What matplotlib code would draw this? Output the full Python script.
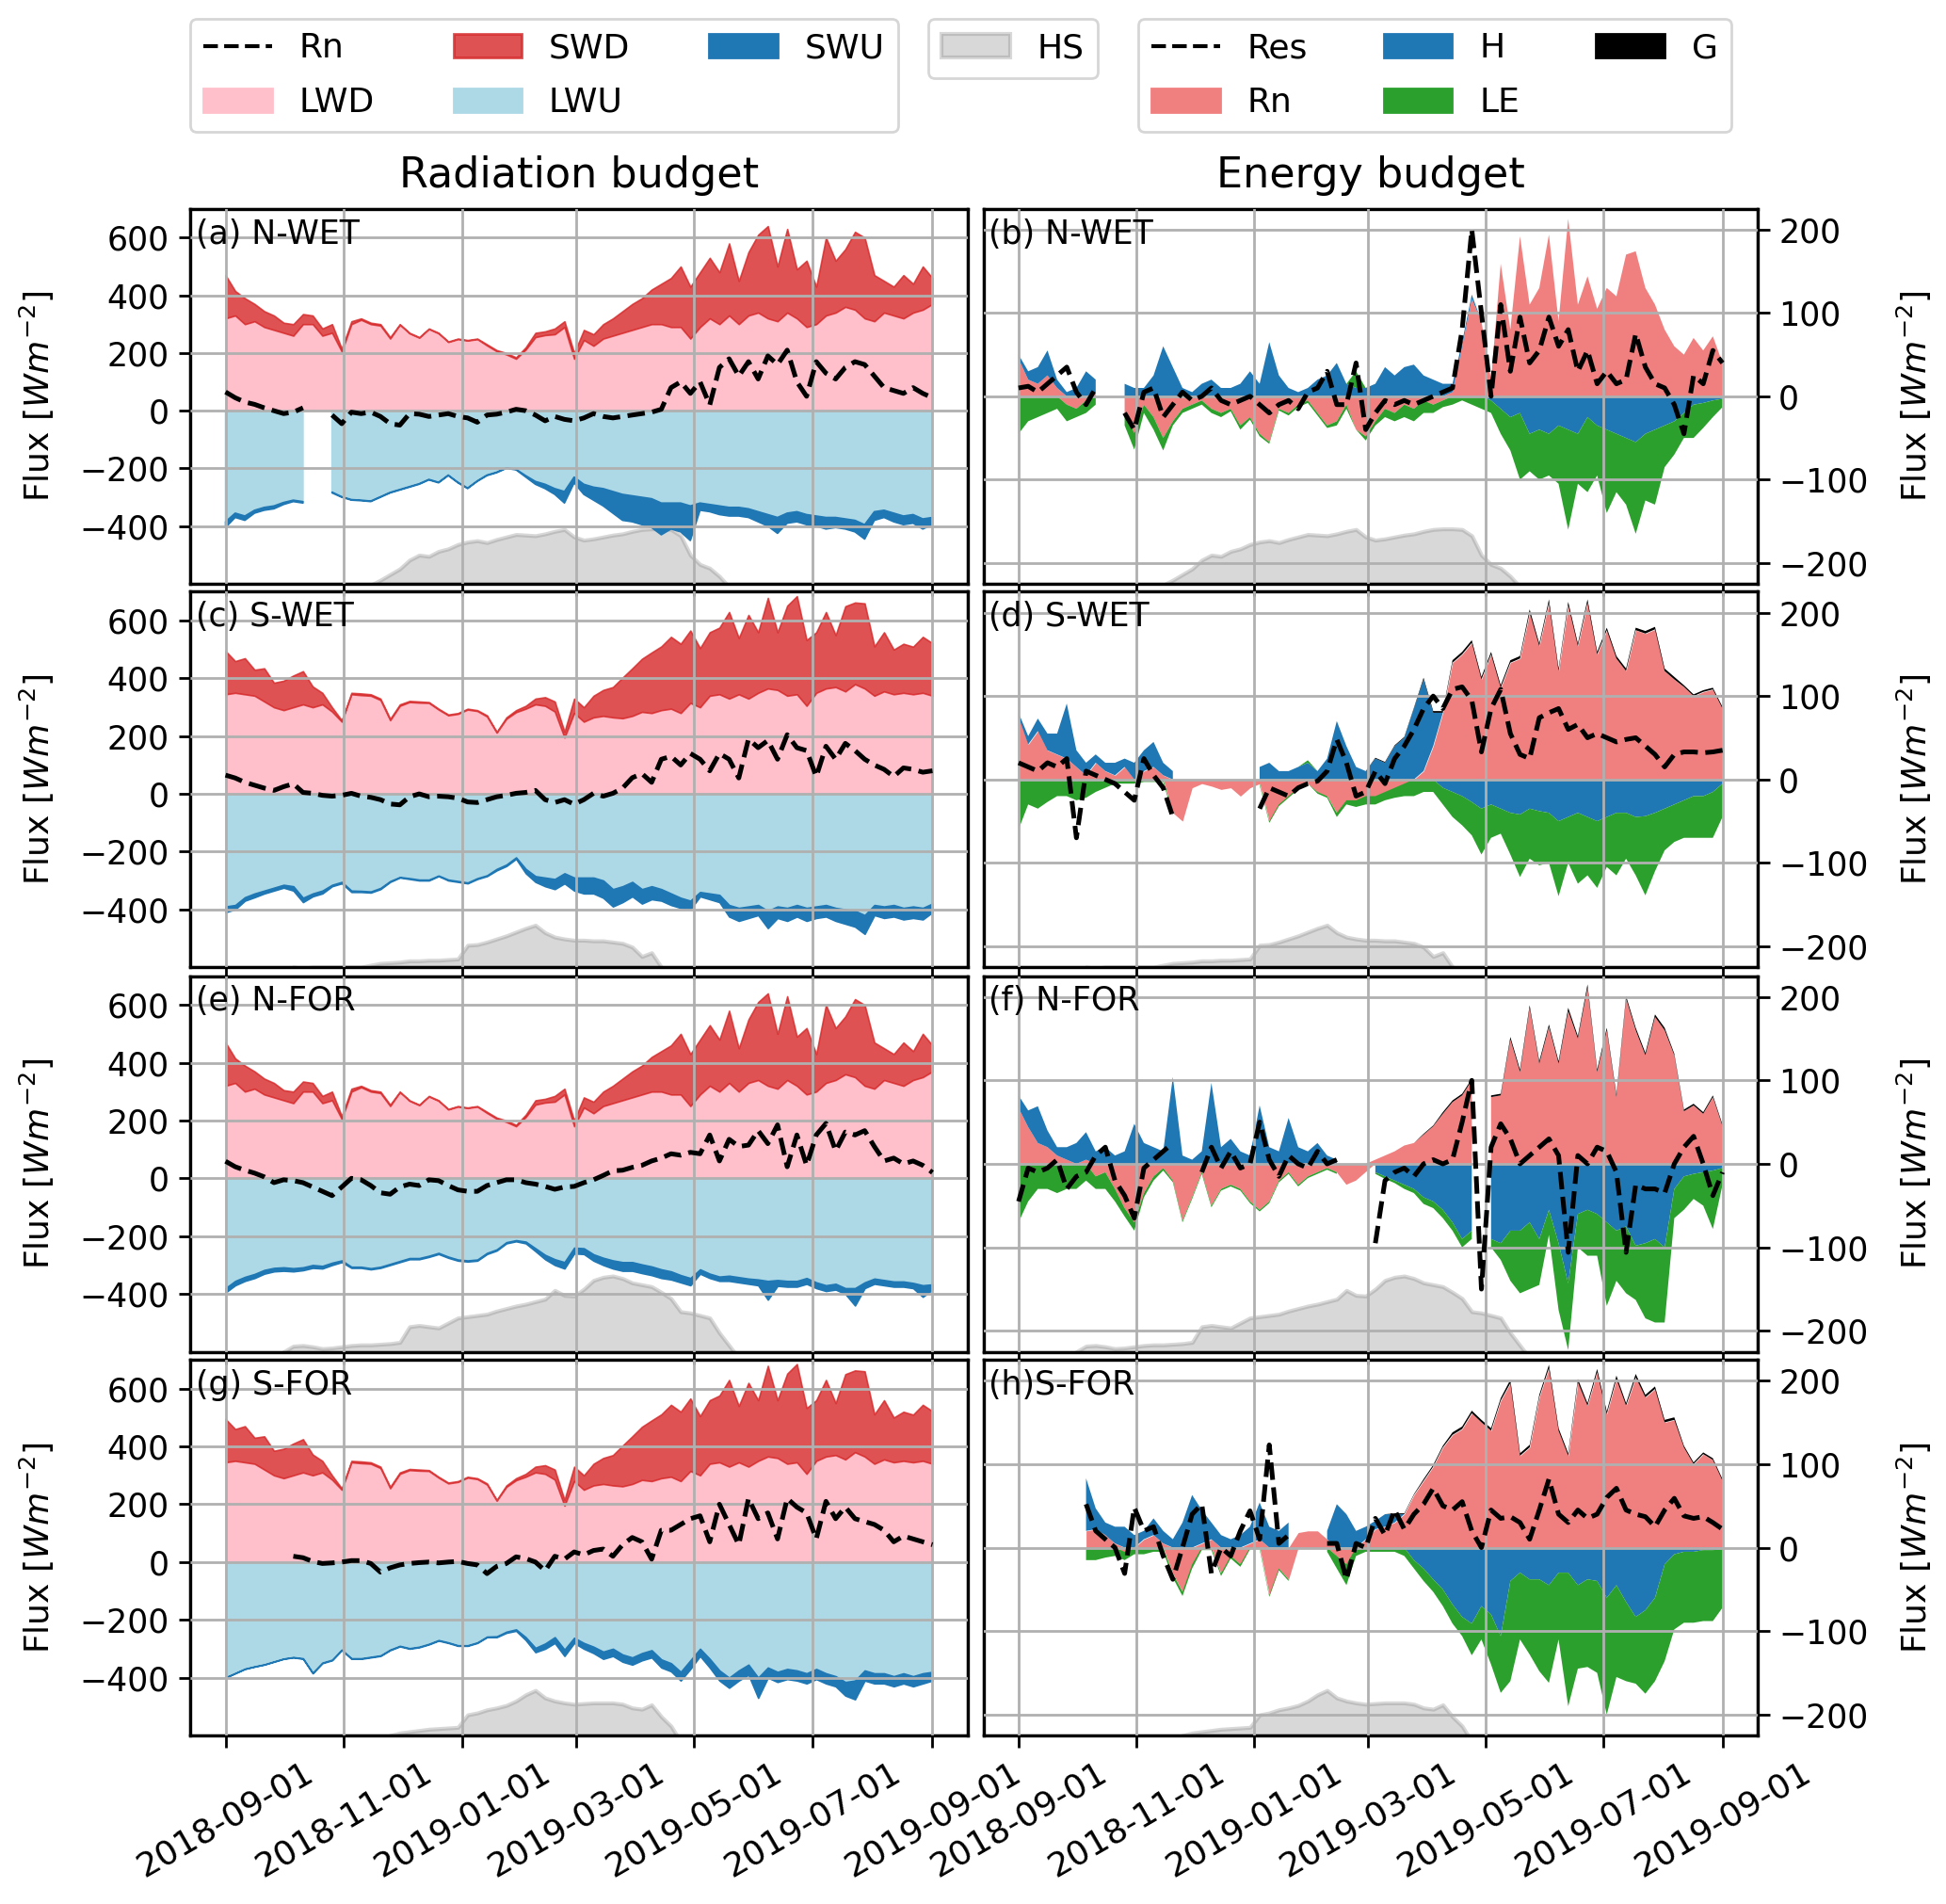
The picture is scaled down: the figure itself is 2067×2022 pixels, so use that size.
import numpy as np
import pandas as pd
import matplotlib
matplotlib.use('Agg')
import matplotlib.pyplot as plt
import matplotlib.dates as mdates
from matplotlib.lines import Line2D
from matplotlib.patches import Patch

nan = np.nan

# 5-daily values, 2018-09-01 .. 2019-09-01 (74 steps)
dates = pd.date_range('2018-09-01', '2019-09-01', freq='5D')

# ---- radiation budget -------------------------------------------------
# incoming radiation, north sites (N-WET, N-FOR)
lwd_n = [320, 330, 300, 310, 290, 280, 270, 260, 300, 300,
         260, 270, 205, 300, 315, 300, 295, 250, 298, 268,
         253, 283, 268, 238, 248, 243, 248, 226, 206, 195,
         180, 212, 255, 262, 265, 290, 180, 245, 225, 250,
         260, 270, 280, 290, 300, 300, 290, 290, 250, 290,
         320, 300, 330, 300, 330, 340, 320, 310, 340, 320,
         290, 300, 330, 340, 360, 350, 320, 310, 340, 330,
         320, 340, 350, 370]
swd_n = [150, 85, 90, 60, 55, 50, 35, 40, 35, 30,
         25, 30, 10, 10, 5, 5, 5, 5, 2, 2,
         2, 2, 2, 2, 2, 2, 2, 4, 4, 5,
         5, 8, 15, 13, 20, 20, 20, 35, 40, 50,
         60, 75, 90, 100, 120, 140, 170, 210, 180, 190,
         210, 180, 250, 150, 220, 270, 320, 190, 290, 170,
         230, 130, 270, 180, 200, 270, 280, 160, 110, 100,
         150, 100, 150, 90]
# incoming radiation, south sites (S-WET, S-FOR)
lwd_s = [345, 350, 345, 340, 320, 300, 290, 300, 310, 300,
         310, 285, 250, 345, 342, 340, 325, 255, 305, 318,
         316, 315, 292, 272, 277, 292, 287, 268, 212, 260,
         283, 295, 310, 305, 285, 195, 280, 250, 265, 270,
         265, 262, 270, 284, 280, 290, 295, 280, 315, 300,
         340, 345, 330, 345, 330, 350, 365, 360, 340, 345,
         305, 350, 365, 370, 355, 380, 365, 340, 355, 345,
         350, 345, 350, 340]
swd_s = [150, 110, 125, 90, 115, 85, 102, 110, 115, 72,
         40, 15, 5, 5, 6, 5, 5, 5, 5, 4,
         4, 3, 3, 3, 3, 3, 3, 4, 3, 5,
         7, 10, 20, 30, 35, 20, 50, 50, 75, 90,
         105, 141, 165, 184, 210, 221, 249, 240, 251, 205,
         220, 231, 300, 195, 290, 210, 314, 200, 312, 340,
         228, 210, 265, 180, 295, 283, 295, 171, 205, 155,
         170, 165, 194, 182]

# outgoing radiation per site
lwu_nwet = [385, 355, 365, 345, 335, 330, 318, 310, 315, nan,
            nan, 282, 298, 308, 310, 313, 298, 283, 273, 263,
            253, 238, 248, 223, 248, 268, 243, 223, 213, 198,
            203, 225, 245, 255, 270, 280, 230, 255, 265, 270,
            280, 290, 295, 300, 305, 320, 320, 320, 330, 320,
            325, 330, 335, 335, 340, 350, 360, 370, 355, 350,
            360, 365, 370, 370, 375, 380, 395, 350, 345, 355,
            365, 360, 375, 370]
swu_nwet = [20, 15, 15, 10, 10, 10, 7, 5, 5, nan,
            nan, 3, 2, 2, 2, 2, 2, 2, 2, 2,
            2, 2, 2, 2, 2, 2, 2, 2, 2, 2,
            2, 5, 10, 15, 20, 40, 20, 35, 45, 60,
            75, 90, 90, 95, 100, 110, 90, 100, 120, 25,
            25, 30, 30, 30, 30, 35, 40, 55, 35, 35,
            35, 35, 40, 35, 35, 40, 50, 30, 25, 30,
            30, 30, 35, 25]
lwu_swet = [390, 385, 358, 345, 335, 325, 315, 320, 360, 345,
            335, 315, 305, 335, 336, 338, 326, 302, 288, 292,
            297, 297, 283, 297, 302, 307, 292, 282, 260, 245,
            220, 260, 285, 290, 295, 275, 290, 290, 290, 300,
            330, 320, 305, 330, 320, 330, 345, 360, 370, 340,
            345, 350, 385, 395, 390, 385, 405, 390, 395, 385,
            395, 390, 385, 395, 400, 405, 420, 385, 390, 385,
            395, 390, 395, 380]
swu_swet = [20, 15, 12, 13, 10, 10, 10, 15, 15, 10,
            10, 5, 5, 5, 4, 4, 4, 3, 2, 3,
            3, 3, 2, 3, 3, 3, 3, 3, 5, 5,
            5, 15, 20, 30, 35, 35, 45, 55, 55, 60,
            60, 55, 50, 50, 45, 40, 40, 35, 30, 15,
            20, 25, 40, 45, 40, 35, 60, 40, 45, 40,
            45, 40, 40, 45, 50, 55, 65, 35, 40, 40,
            40, 40, 40, 30]
lwu_nfor = [380, 355, 341, 331, 317, 310, 308, 311, 308, 300,
            303, 292, 284, 306, 306, 311, 306, 296, 286, 276,
            276, 268, 258, 271, 281, 284, 281, 258, 246, 221,
            214, 219, 242, 265, 280, 290, 240, 242, 263, 275,
            284, 290, 290, 298, 305, 315, 322, 335, 345, 315,
            330, 340, 337, 342, 347, 350, 355, 352, 355, 355,
            345, 360, 370, 365, 380, 380, 360, 347, 352, 357,
            357, 362, 370, 367]
swu_nfor = [15, 15, 14, 14, 13, 12, 12, 11, 10, 10,
            9, 8, 6, 4, 4, 4, 4, 4, 4, 4,
            4, 4, 4, 4, 4, 4, 4, 4, 4, 4,
            4, 6, 10, 15, 20, 22, 20, 20, 22, 25,
            28, 30, 30, 30, 30, 30, 28, 25, 25, 15,
            15, 15, 18, 18, 18, 20, 65, 20, 20, 20,
            20, 20, 20, 20, 20, 60, 20, 18, 18, 18,
            18, 18, 40, 18]
lwu_sfor = [399, 384, 369, 361, 354, 344, 334, 329, 333, 383,
            348, 338, 303, 333, 333, 328, 323, 303, 290, 298,
            293, 283, 270, 278, 288, 288, 278, 258, 257, 241,
            233, 260, 297, 282, 260, 303, 262, 280, 293, 310,
            300, 320, 330, 315, 305, 337, 350, 380, 340, 300,
            335, 375, 400, 375, 355, 400, 365, 380, 370, 375,
            385, 370, 385, 395, 415, 410, 375, 385, 385, 395,
            385, 395, 385, 380]
swu_sfor = [1, 1, 1, 1, 1, 1, 1, 1, 2, 2,
            2, 2, 2, 2, 2, 2, 2, 2, 2, 2,
            2, 2, 2, 2, 2, 2, 2, 2, 3, 4,
            5, 10, 15, 18, 20, 22, 18, 20, 22, 25,
            25, 25, 25, 25, 25, 28, 28, 30, 30, 25,
            30, 35, 35, 35, 35, 70, 35, 35, 35, 35,
            35, 35, 35, 35, 47, 65, 35, 35, 35, 35,
            35, 35, 35, 30]

# net radiation per site
rn_nwet = [65, 45, 30, 22, 10, 0, -10, -5, 10, nan,
           nan, -15, -45, -5, -10, -5, -20, -45, -50, -10,
           -12, -20, -15, -10, -20, -25, -40, -15, -12, -5,
           5, 0, -15, -35, -20, -30, -35, -25, -10, -20,
           -25, -20, -15, -10, -5, 5, 80, 100, 60, 100,
           20, 150, 180, 120, 170, 110, 190, 160, 210, 100,
           50, 170, 130, 110, 150, 170, 160, 120, 80, 70,
           60, 80, 60, 45]
rn_swet = [65, 55, 40, 30, 20, 12, 25, 35, 5, 2,
           -5, -8, -5, 2, -8, -12, -20, -35, -38, -10,
           0, -10, -8, -10, -15, -28, -30, -20, -10, -5,
           2, 5, 12, -20, -30, -20, -36, -20, 2, -8,
           2, 20, 56, 70, 40, 120, 130, 100, 140, 120,
           80, 140, 120, 55, 190, 160, 185, 120, 205, 160,
           150, 60, 165, 120, 175, 150, 120, 100, 85, 60,
           90, 85, 75, 80]
rn_nfor = [59, 40, 28, 18, 5, -15, -5, -8, -15, -30,
           -45, -60, -30, 0, -5, -25, -50, -55, -30, -20,
           -25, -5, -8, -25, -40, -45, -45, -25, -15, -5,
           -5, -15, -20, -28, -38, -30, -28, -15, -5, 10,
           26, 28, 38, 45, 60, 70, 85, 80, 90, 85,
           150, 60, 135, 110, 115, 165, 120, 185, 40, 150,
           45, 150, 190, 95, 160, 150, 165, 110, 60, 70,
           50, 60, 45, 20]
rn_sfor = [nan, nan, nan, nan, nan, nan, nan, 20, 15, 2,
           -5, -3, 0, 5, 5, -5, -35, -20, -10, -5,
           -2, 0, -3, 0, 2, -5, -10, -40, -15, -5,
           18, 12, 0, -30, 20, 10, 35, 25, 40, 45,
           20, 60, 85, 70, 10, 110, 110, 130, 150, 160,
           70, 200, 130, 60, 220, 150, 170, 80, 220, 190,
           170, 80, 210, 150, 190, 150, 140, 130, 110, 70,
           90, 80, 70, 60]

# ---- energy budget (signs as plotted) --------------------------------
rn_b = [45, 20, 15, 25, 10, -10, -15, -5, 5, nan,
        nan, -20, -44, -10, -25, -50, -30, -15, -10, -5,
        -15, -20, -15, -35, -25, -45, -55, -15, -20, -10,
        -5, -20, -35, -30, -10, -40, -48, -30, -15, -20,
        -10, -15, -5, -10, -5, 5, 60, 117, 90, 20,
        159, 80, 192, 110, 130, 194, 90, 213, 110, 144,
        105, 130, 120, 170, 174, 130, 110, 80, 60, 50,
        70, 55, 72, 40]
h_b = [5, 10, 20, 30, 10, 5, 10, 30, 15, nan,
       nan, 15, 10, 10, 25, 60, 35, 10, 5, 15,
       20, 10, 10, 15, 30, 15, 65, 25, 10, 5,
       10, 20, 25, 40, 15, 10, 10, 15, 35, 25,
       35, 38, 25, 20, 15, 10, 5, 5, 0, -5,
       -15, -25, -20, -45, -40, -45, -35, -40, -45, -25,
       -35, -40, -45, -50, -55, -45, -40, -35, -30, -20,
       -10, -8, -5, -3]
le_b = [-45, -30, -25, -20, -15, -20, -10, -15, -10, nan,
        nan, -15, -20, -10, -15, -15, -5, -5, -5, -5,
        -5, -5, -3, -5, -3, -3, -2, -2, -3, -3,
        -3, -3, -3, -5, -5, 20, -5, -5, -10, -10,
        -15, -15, -15, -10, -8, -10, -5, -10, -15, -15,
        -30, -40, -80, -45, -60, -50, -70, -120, -60, -90,
        -60, -100, -70, -80, -110, -80, -90, -50, -40, -30,
        -40, -30, -20, -10]
g_b = [nan] * len(dates)  # no ground heat flux at N-WET
res_b = [10, 12, 5, 15, 25, 35, 5, -10, 10, nan,
         nan, -20, -40, 5, 10, -25, -10, 5, -5, 0,
         10, -5, -10, -5, 0, -10, -20, -10, -5, -15,
         5, 10, 30, -10, -10, 40, -40, -20, -5, -10,
         -5, -10, -5, 0, 5, 10, 80, 200, 100, 0,
         110, 30, 95, 40, 55, 95, 60, 80, 30, 55,
         15, 30, 15, 20, 75, 35, 15, 10, -10, -45,
         25, 15, 55, 40]

rn_d = [75, 42, 58, 35, 30, 25, 15, 5, 20, 10,
        5, 15, 0, 10, 15, 5, -40, -50, -10, -5,
        -8, -12, -10, -20, -10, -5, -50, -30, -20, -10,
        -5, -15, -20, -40, -25, -25, -20, -20, -15, -10,
        -5, 0, 10, 40, 80, 140, 150, 164, 120, 150,
        110, 140, 145, 200, 160, 212, 130, 209, 160, 212,
        150, 179, 145, 130, 179, 175, 180, 130, 120, 111,
        100, 105, 108, 85]
h_d = [5, 10, 15, 20, 25, 66, 20, 15, 10, 10,
       15, 10, 20, 25, 30, 15, 10, nan, nan, nan,
       nan, nan, nan, nan, nan, 15, 20, 10, 10, 15,
       20, 10, 25, 70, 40, 15, 10, 25, 20, 40,
       50, 85, 110, 40, -10, -15, -20, -27, -35, -30,
       -35, -40, -42, -35, -38, -40, -50, -45, -40, -45,
       -50, -45, -40, -40, -45, -44, -40, -35, -30, -25,
       -20, -20, -15, -5]
le_d = [-60, -30, -35, -27, -20, -20, -25, -22, -15, -10,
        -5, -5, -5, -3, -3, -3, -3, nan, nan, nan,
        nan, nan, nan, nan, nan, -2, -2, -2, -2, -2,
        3, -2, -2, -5, -5, -8, -10, -10, -10, -12,
        -15, -20, -15, -15, -20, -30, -35, -40, -55, -40,
        -30, -50, -75, -60, -65, -60, -90, -55, -85, -70,
        -80, -60, -75, -55, -70, -95, -70, -50, -45, -45,
        -50, -50, -55, -40]
g_d = [0, 0, 0, 0, 0, 0, 0, 0, 0, 0,
       0, 0, 0, 0, 0, 0, 0, 0, 0, 0,
       0, 0, 0, 0, 0, 0, 0, 0, 0, 0,
       0, 0, 0, 0, 0, 0, 0, 1, 1, 1,
       1, 1, 2, 2, 2, 3, 3, 3, 3, 3,
       3, 3, 3, 4, 3, 4, 3, 4, 3, 4,
       3, 3, 3, 3, 3, 3, 3, 3, 3, 2,
       2, 2, 2, 2]
res_d = [20, 15, 10, 20, 15, 25, -70, 10, 5, 0,
         -5, -15, -25, 25, 5, -10, -45, nan, nan, nan,
         nan, nan, nan, nan, nan, -35, -10, -15, -20, -10,
         -5, -2, 10, 48, 20, -20, -15, 10, -5, 25,
         40, 60, 85, 100, 85, 108, 111, 95, 33, 85,
         108, 55, 30, 25, 74, 80, 85, 60, 66, 50,
         55, 50, 45, 48, 50, 40, 30, 15, 30, 33,
         33, 32, 33, 35]

rn_f = [67, 44, 25, 20, 10, 5, 0, 5, -15, -10,
        -30, -53, -70, -35, -15, -5, -20, -68, -40, -10,
        -50, -30, -25, -30, -45, -55, -45, -20, -10, -25,
        -15, -10, -5, -10, -25, -20, -10, 5, 10, 15,
        22, 25, 35, 45, 60, 74, 82, 100, nan, 80,
        82, 149, 110, 187, 120, 164, 120, 183, 150, 211,
        110, 160, 80, 198, 160, 130, 176, 160, 130, 63,
        70, 60, 80, 45]
h_f = [15, 20, 44, 20, 10, 15, 25, 33, 15, 20,
       10, 15, 48, 25, 20, 15, 104, 10, 5, 15,
       97, 20, 30, 15, 10, 70, 20, 15, 55, 20,
       15, 25, 10, 5, nan, nan, nan, -10, -15, -20,
       -25, -30, -40, -45, -55, -70, -90, -80, nan, -90,
       -95, -80, -80, -70, -90, -55, -95, -143, -60, -55,
       -60, -70, -80, -75, -98, -95, -90, -100, -30, -15,
       -12, -10, -8, -5]
le_f = [-70, -45, -30, -30, -35, -30, -30, -20, -15, -20,
        -15, -10, -10, -5, -5, -3, -2, -2, -2, -2,
        -2, -2, -2, -2, -2, -2, -2, -2, -2, -2,
        -2, -2, -2, -2, nan, nan, nan, -2, -3, -3,
        -5, -5, -8, -8, -10, -10, -10, -10, nan, -10,
        -20, -60, -75, -80, -55, -30, -80, -80, -40, -55,
        -50, -100, -60, -80, -65, -90, -100, -90, -35, -40,
        -30, -40, -70, -20]
g_f = [0, 0, 0, 0, 0, 0, 0, 0, 0, 0,
       0, 0, 0, 0, 0, 0, 0, 0, 0, 0,
       0, 0, 0, 0, 0, 0, 0, 0, 0, 0,
       0, 0, 0, 0, 0, 0, 0, 0, 0, 0,
       0, 0, 1, 1, 2, 2, 2, 2, nan, 2,
       2, 3, 3, 3, 3, 3, 3, 4, 3, 4,
       3, 3, 3, 3, 3, 3, 3, 3, 2, 2,
       2, 2, 2, 2]
res_f = [-45, -5, -10, -5, 5, -30, -15, -10, 10, 20,
         -20, -38, -65, -5, 5, 15, 25, nan, nan, -10,
         20, -5, 15, -5, 0, 50, 5, -15, 10, 0,
         -5, 15, 0, 5, nan, nan, nan, -95, -20, -10,
         -5, -15, 0, 5, 0, 5, 50, 100, -150, 20,
         48, 30, 0, 10, 20, 30, 10, -106, 10, 0,
         20, 15, -10, -106, -25, -30, -30, -35, 0, 20,
         33, 0, -38, -10]

rn_h = [nan, nan, nan, nan, nan, nan, nan, 20, 22, 15,
        5, -5, 0, 10, 15, 5, -31, -53, -20, 5,
        10, -31, -10, -20, 5, 10, -57, -25, -38, 18,
        20, 20, 10, -10, -20, 0, 10, 22, 25, 30,
        40, 63, 80, 97, 120, 135, 142, 161, 150, 140,
        176, 197, 110, 120, 180, 215, 140, 110, 198, 170,
        210, 160, 202, 170, 204, 180, 190, 150, 153, 120,
        100, 112, 105, 80]
h_h = [nan, nan, nan, nan, nan, nan, nan, 63, 25, 15,
       20, 25, 15, 10, 20, 15, 10, 30, 63, 40,
       20, 15, 10, 15, 20, 44, 25, 20, 30, nan,
       nan, nan, 10, 52, 40, 20, 15, 10, 15, 10,
       0, -15, -25, -38, -50, -68, -83, -91, -70, -80,
       -106, -40, -30, -38, -38, -45, -30, -30, -45, -38,
       -40, -60, -45, -65, -83, -75, -60, -20, -8, -5,
       -5, -3, -3, -2]
le_h = [nan, nan, nan, nan, nan, nan, nan, -15, -15, -12,
        -10, -10, -8, -8, -5, -5, -5, -5, -5, -3,
        -3, -3, -3, -3, -2, -2, -2, -2, -2, nan,
        nan, nan, -5, -15, -25, -10, -5, -5, -5, -5,
        -10, -10, -15, -15, -20, -23, -23, -38, -40, -60,
        -68, -120, -80, -90, -110, -117, -80, -160, -100, -105,
        -110, -140, -110, -95, -80, -100, -100, -116, -90, -85,
        -85, -85, -85, -70]
g_h = [nan, nan, nan, nan, nan, nan, nan, 0, 0, 0,
       0, 0, 0, 0, 0, 0, 0, 0, 0, 0,
       0, 0, 0, 0, 0, 0, 0, 0, 0, 0,
       0, 0, 0, 0, 0, 0, 0, 0, 0, 1,
       1, 1, 2, 2, 2, 3, 3, 3, 3, 3,
       3, 4, 3, 3, 3, 4, 3, 3, 4, 3,
       4, 3, 4, 3, 4, 3, 3, 3, 3, 2,
       2, 2, 2, 2]
res_h = [nan, nan, nan, nan, nan, nan, nan, 52, 20, 10,
         0, -31, 48, 20, 25, -10, -38, 0, 40, 52,
         -31, 0, -10, 20, 44, 10, 123, 5, 15, nan,
         nan, nan, 5, 5, -38, 5, 0, 35, 15, 45,
         22, 40, 52, 71, 50, 45, 55, 20, 0, 45,
         35, 37, 30, 10, 45, 82, 40, 30, 45, 35,
         40, 60, 71, 45, 40, 37, 25, 45, 59, 38,
         35, 37, 30, 22]

# ---- snow height [m] ------------------------------------------------------
hs_nwet = [0, 0, 0, 0, 0, 0, 0, 0, 0, 0,
           0, 0, 0, 0.1, 0.2, 0.28, 0.36, 0.45, 0.54, 0.68,
           0.76, 0.74, 0.82, 0.86, 0.93, 0.97, 0.99, 0.96, 1.01, 1.05,
           1.09, 1.08, 1.07, 1.10, 1.14, 1.17, 1.05, 1.00, 1.02, 1.05,
           1.08, 1.10, 1.14, 1.17, 1.18, 1.18, 1.17, 1.07, 0.76, 0.61,
           0.55, 0.42, 0.25, 0.1, 0, 0, 0, 0, 0, 0,
           0, 0, 0, 0, 0, 0, 0, 0, 0, 0,
           0, 0, 0, 0]
hs_swet = [0, 0, 0, 0, 0, 0, 0.2, 0.3, 0.28, 0.3,
           0.3, 0.3, 0.3, 0.3, 0.3, 0.33, 0.36, 0.37, 0.38, 0.4,
           0.4, 0.41, 0.41, 0.42, 0.43, 0.65, 0.66, 0.7, 0.75, 0.8,
           0.86, 0.92, 0.97, 0.85, 0.78, 0.75, 0.73, 0.73, 0.72, 0.72,
           0.7, 0.68, 0.62, 0.47, 0.53, 0.3, 0.1, 0, 0, 0,
           0, 0, 0, 0, 0, 0, 0, 0, 0, 0,
           0, 0, 0, 0, 0, 0, 0, 0, 0, 0,
           0, 0, 0, 0]
hs_nfor = [0, 0, 0, 0, 0, 0, 0.3, 0.39, 0.4, 0.38,
           0.35, 0.36, 0.38, 0.4, 0.41, 0.41, 0.42, 0.43, 0.45, 0.7,
           0.72, 0.7, 0.68, 0.76, 0.84, 0.86, 0.88, 0.9, 0.95, 0.99,
           1.03, 1.06, 1.1, 1.14, 1.28, 1.2, 1.19, 1.3, 1.44, 1.49,
           1.51, 1.47, 1.4, 1.37, 1.34, 1.25, 1.15, 0.94, 0.92, 0.88,
           0.84, 0.6, 0.4, 0.2, 0, 0, 0, 0, 0, 0,
           0, 0, 0, 0, 0, 0, 0, 0, 0, 0,
           0, 0, 0, 0]
hs_sfor = [0, 0, 0, 0, 0, 0, 0, 0, 0, 0,
           0, 0, 0, 0, 0, 0, 0.25, 0.3, 0.34, 0.36,
           0.38, 0.4, 0.41, 0.42, 0.43, 0.63, 0.66, 0.71, 0.74, 0.78,
           0.85, 0.95, 1.02, 0.9, 0.85, 0.82, 0.80, 0.81, 0.82, 0.82,
           0.82, 0.80, 0.74, 0.72, 0.79, 0.6, 0.45, 0.2, 0, 0,
           0, 0, 0, 0, 0, 0, 0, 0, 0, 0,
           0, 0, 0, 0, 0, 0, 0, 0, 0, 0,
           0, 0, 0, 0]

# ---- layout ------------------------------------------------------------
W, H = 2067, 2022
DPI = 200
fig = plt.figure(figsize=(W / DPI, H / DPI), dpi=DPI)


def rect(x0, x1, y0, y1):
    return [x0 / W, 1 - y1 / H, (x1 - x0) / W, (y1 - y0) / H]


cols = [(202, 1028), (1044.5, 1867)]
rows = [(221.7, 620), (628.5, 1027), (1036.5, 1435.5), (1444, 1843)]

TICK = 12.5
LAB = 13


def add_hs(ax, hs):
    tw = ax.twinx()
    tw.fill_between(dates, 0, np.array(hs, float), color='gray', alpha=0.3, lw=1.5)
    tw.set_ylim(0.3, 6.3)
    tw.set_yticks([])
    ax.set_zorder(tw.get_zorder() + 1)
    ax.patch.set_visible(False)


def common(ax, label, bottom):
    ax.set_xlim(dates[0] - pd.Timedelta(days=18.25), dates[-1] + pd.Timedelta(days=18.25))
    ax.xaxis.set_major_locator(mdates.MonthLocator(bymonth=[1, 3, 5, 7, 9, 11]))
    ax.xaxis.set_major_formatter(mdates.DateFormatter('%Y-%m-%d'))
    ax.grid(True, color='#b0b0b0', lw=1.0)
    ax.set_axisbelow(False)
    ax.tick_params(labelsize=TICK, length=4.5, width=1.0)
    for s in ax.spines.values():
        s.set_linewidth(1.2)
    ax.text(0.007, 0.975, label, transform=ax.transAxes, fontsize=12.5,
            va='top', ha='left', zorder=5)
    if bottom:
        plt.setp(ax.get_xticklabels(), rotation=30, ha='center', fontsize=13)
    else:
        ax.tick_params(labelbottom=False)


def radiation(ax, lwd, swd, lwu, swu, rn, hs, label, bottom):
    lwd, swd = np.array(lwd, float), np.array(swd, float)
    lwu, swu = np.array(lwu, float), np.array(swu, float)
    add_hs(ax, hs)
    ax.fill_between(dates, 0, lwd, color='pink', lw=0.6)
    ax.fill_between(dates, lwd, lwd + swd, color='tab:red', alpha=0.8, lw=0.6)
    ax.fill_between(dates, 0, -lwu, color='lightblue', lw=0.6)
    ax.fill_between(dates, -lwu, -lwu - swu, color='tab:blue', lw=0.6)
    ax.plot(dates, rn, color='k', ls='--', lw=1.8, zorder=3)
    ax.set_ylim(-600, 700)
    ax.set_yticks([-400, -200, 0, 200, 400, 600])
    ax.set_ylabel(r'Flux [$Wm^{-2}$]', fontsize=LAB, labelpad=9)
    common(ax, label, bottom)


def energy(ax, rn, h, le, g, res, hs, label, bottom):
    add_hs(ax, hs)
    comps = [np.array(c, float) for c in (rn, h, le, g)]
    colors = ['lightcoral', 'tab:blue', 'tab:green', 'black']
    pos = np.zeros(len(dates))
    neg = np.zeros(len(dates))
    for c, col in zip(comps, colors):
        p = np.clip(c, 0, None)
        n = np.clip(c, None, 0)
        ax.fill_between(dates, pos, pos + p, color=col, lw=0)
        ax.fill_between(dates, neg, neg + n, color=col, lw=0)
        pos = pos + p
        neg = neg + n
    ax.plot(dates, res, color='k', ls='--', lw=1.8, zorder=3)
    ax.set_ylim(-225, 225)
    ax.set_yticks([-200, -100, 0, 100, 200])
    ax.yaxis.tick_right()
    ax.yaxis.set_label_position('right')
    ax.set_ylabel(r'Flux [$Wm^{-2}$]', fontsize=LAB, labelpad=10)
    common(ax, label, bottom)


rad_sets = [
    (lwd_n, swd_n, lwu_nwet, swu_nwet, rn_nwet, hs_nwet, '(a) N-WET'),
    (lwd_s, swd_s, lwu_swet, swu_swet, rn_swet, hs_swet, '(c) S-WET'),
    (lwd_n, swd_n, lwu_nfor, swu_nfor, rn_nfor, hs_nfor, '(e) N-FOR'),
    (lwd_s, swd_s, lwu_sfor, swu_sfor, rn_sfor, hs_sfor, '(g) S-FOR'),
]
en_sets = [
    (rn_b, h_b, le_b, g_b, res_b, hs_nwet, '(b) N-WET'),
    (rn_d, h_d, le_d, g_d, res_d, hs_swet, '(d) S-WET'),
    (rn_f, h_f, le_f, g_f, res_f, hs_nfor, '(f) N-FOR'),
    (rn_h, h_h, le_h, g_h, res_h, hs_sfor, '(h)S-FOR'),
]

for i, (y0, y1) in enumerate(rows):
    last = i == len(rows) - 1
    axl = fig.add_axes(rect(cols[0][0], cols[0][1], y0, y1))
    radiation(axl, *rad_sets[i], bottom=last)
    axr = fig.add_axes(rect(cols[1][0], cols[1][1], y0, y1))
    energy(axr, *en_sets[i], bottom=last)
    if i == 0:
        axl.set_title('Radiation budget', fontsize=16, pad=8)
        axr.set_title('Energy budget', fontsize=16, pad=8)

# ---- legends -------------------------------------------------------------
rad_handles = [Line2D([], [], color='k', ls='--', lw=1.5),
               Patch(color='pink'),
               Patch(color='tab:red', alpha=0.8),
               Patch(color='lightblue'),
               Patch(color='tab:blue')]
rad_labels = ['Rn', 'LWD', 'SWD', 'LWU', 'SWU']
fig.legend(rad_handles, rad_labels, loc='upper left', ncol=3, mode='expand',
           bbox_to_anchor=(202 / W, 1 - 142 / H, 752 / W, 122 / H),
           borderaxespad=0, fontsize=LAB, labelspacing=0.65)

fig.legend([Patch(facecolor=(0.5, 0.5, 0.5, 0.3), edgecolor=(0.5, 0.5, 0.5, 0.3), lw=1.5)],
           ['HS'], loc='upper left', bbox_to_anchor=(986 / W, 1 - 20 / H),
           borderaxespad=0, fontsize=LAB)

en_handles = [Line2D([], [], color='k', ls='--', lw=1.5),
              Patch(color='lightcoral'),
              Patch(color='tab:blue'),
              Patch(color='tab:green'),
              Patch(color='black')]
en_labels = ['Res', 'Rn', 'H', 'LE', 'G']
fig.legend(en_handles, en_labels, loc='upper left', ncol=3, mode='expand',
           bbox_to_anchor=(1209 / W, 1 - 142 / H, 630 / W, 122 / H),
           borderaxespad=0, fontsize=LAB, labelspacing=0.65)

fig.savefig('out.png', dpi=DPI)
